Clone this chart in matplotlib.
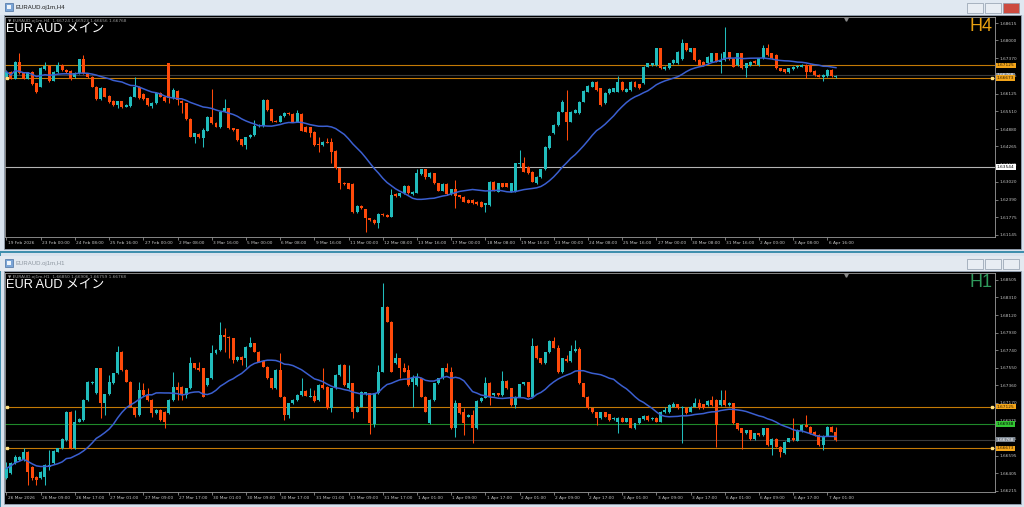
import matplotlib
matplotlib.use('Agg')
import matplotlib.pyplot as plt
import matplotlib.transforms as mtransforms
from matplotlib.patches import Rectangle
import numpy as np
import pandas as pd

plt.rcParams['font.family'] = ['DejaVu Sans', 'Noto Sans CJK JP']

# ---------------- H4 data (EURAUD) ----------------
h4_open = [1.6672, 1.6690, 1.6666, 1.6725, 1.6688, 1.6666, 1.6690, 1.6649, 1.6637, 1.6699,
           1.6710, 1.6658, 1.6688, 1.6714, 1.6696, 1.6692, 1.6670, 1.6684, 1.6734, 1.6684,
           1.6672, 1.6637, 1.6593, 1.6631, 1.6604, 1.6587, 1.6573, 1.6585, 1.6567, 1.6569,
           1.6602, 1.6637, 1.6611, 1.6596, 1.6569, 1.6579, 1.6614, 1.6602, 1.6719, 1.6596,
           1.6623, 1.6588, 1.6579, 1.6525, 1.6461, 1.6470, 1.6455, 1.6482, 1.6529, 1.6508,
           1.6494, 1.6549, 1.6561, 1.6490, 1.6487, 1.6452, 1.6431, 1.6459, 1.6467, 1.6499,
           1.6499, 1.6590, 1.6557, 1.6516, 1.6514, 1.6534, 1.6546, 1.6541, 1.6514, 1.6541,
           1.6496, 1.6494, 1.6478, 1.6435, 1.6431, 1.6443, 1.6443, 1.6410, 1.6349, 1.6298,
           1.6296, 1.6294, 1.6197, 1.6217, 1.6205, 1.6173, 1.6167, 1.6156, 1.6189, 1.6186,
           1.6179, 1.6259, 1.6252, 1.6261, 1.6288, 1.6259, 1.6264, 1.6329, 1.6346, 1.6320,
           1.6332, 1.6297, 1.6271, 1.6294, 1.6259, 1.6275, 1.6254, 1.6250, 1.6238, 1.6238,
           1.6232, 1.6232, 1.6220, 1.6220, 1.6302, 1.6267, 1.6297, 1.6297, 1.6267, 1.6267,
           1.6365, 1.6367, 1.6355, 1.6338, 1.6297, 1.6320, 1.6346, 1.6420, 1.6473, 1.6502,
           1.6549, 1.6549, 1.6514, 1.6545, 1.6543, 1.6584, 1.6620, 1.6637, 1.6655, 1.6631,
           1.6578, 1.6614, 1.6620, 1.6620, 1.6655, 1.6620, 1.6625, 1.6655, 1.6645, 1.6649,
           1.6708, 1.6713, 1.6713, 1.6772, 1.6698, 1.6702, 1.6719, 1.6719, 1.6733, 1.6790,
           1.6760, 1.6772, 1.6731, 1.6725, 1.6719, 1.6725, 1.6755, 1.6725, 1.6731, 1.6758,
           1.6735, 1.6713, 1.6755, 1.6702, 1.6713, 1.6729, 1.6713, 1.6737, 1.6772, 1.6755,
           1.6749, 1.6702, 1.6698, 1.6688, 1.6698, 1.6705, 1.6708, 1.6713, 1.6713, 1.6694,
           1.6678, 1.6672, 1.6675, 1.6696, 1.6670]
h4_high = [1.6696, 1.6692, 1.6729, 1.6755, 1.6690, 1.6690, 1.6692, 1.6651, 1.6705, 1.6725,
           1.6714, 1.6694, 1.6725, 1.6716, 1.6698, 1.6696, 1.6689, 1.6736, 1.6749, 1.6687,
           1.6675, 1.6640, 1.6637, 1.6634, 1.6607, 1.6589, 1.6588, 1.6587, 1.6576, 1.6604,
           1.6670, 1.6640, 1.6616, 1.6598, 1.6583, 1.6619, 1.6619, 1.6604, 1.6722, 1.6631,
           1.6625, 1.6590, 1.6581, 1.6528, 1.6475, 1.6473, 1.6490, 1.6534, 1.6628, 1.6511,
           1.6553, 1.6593, 1.6563, 1.6493, 1.6489, 1.6454, 1.6461, 1.6469, 1.6520, 1.6506,
           1.6593, 1.6593, 1.6560, 1.6519, 1.6536, 1.6549, 1.6548, 1.6543, 1.6555, 1.6543,
           1.6499, 1.6496, 1.6481, 1.6461, 1.6446, 1.6455, 1.6455, 1.6413, 1.6352, 1.6301,
           1.6299, 1.6296, 1.6220, 1.6219, 1.6207, 1.6176, 1.6170, 1.6191, 1.6191, 1.6189,
           1.6276, 1.6261, 1.6264, 1.6291, 1.6291, 1.6270, 1.6346, 1.6348, 1.6348, 1.6338,
           1.6334, 1.6299, 1.6297, 1.6297, 1.6278, 1.6308, 1.6257, 1.6252, 1.6240, 1.6240,
           1.6234, 1.6234, 1.6228, 1.6305, 1.6305, 1.6299, 1.6299, 1.6299, 1.6299, 1.6369,
           1.6414, 1.6390, 1.6357, 1.6340, 1.6322, 1.6348, 1.6428, 1.6467, 1.6506, 1.6553,
           1.6590, 1.6625, 1.6551, 1.6557, 1.6587, 1.6625, 1.6643, 1.6657, 1.6657, 1.6634,
           1.6618, 1.6631, 1.6634, 1.6675, 1.6657, 1.6631, 1.6657, 1.6657, 1.6648, 1.6710,
           1.6722, 1.6722, 1.6775, 1.6775, 1.6710, 1.6722, 1.6733, 1.6763, 1.6804, 1.6792,
           1.6775, 1.6775, 1.6733, 1.6728, 1.6745, 1.6757, 1.6757, 1.6755, 1.6846, 1.6760,
           1.6737, 1.6757, 1.6757, 1.6722, 1.6728, 1.6731, 1.6739, 1.6784, 1.6788, 1.6757,
           1.6751, 1.6704, 1.6700, 1.6704, 1.6710, 1.6713, 1.6716, 1.6716, 1.6716, 1.6696,
           1.6681, 1.6681, 1.6698, 1.6698, 1.6677]
h4_low = [1.6669, 1.6663, 1.6664, 1.6682, 1.6664, 1.6663, 1.6643, 1.6616, 1.6635, 1.6696,
          1.6655, 1.6656, 1.6685, 1.6694, 1.6687, 1.6661, 1.6668, 1.6682, 1.6682, 1.6669,
          1.6635, 1.6590, 1.6590, 1.6600, 1.6579, 1.6569, 1.6561, 1.6563, 1.6564, 1.6567,
          1.6600, 1.6594, 1.6590, 1.6570, 1.6561, 1.6576, 1.6600, 1.6582, 1.6579, 1.6593,
          1.6573, 1.6543, 1.6520, 1.6459, 1.6437, 1.6455, 1.6425, 1.6480, 1.6506, 1.6494,
          1.6492, 1.6547, 1.6487, 1.6482, 1.6447, 1.6428, 1.6416, 1.6456, 1.6465, 1.6496,
          1.6496, 1.6553, 1.6514, 1.6512, 1.6512, 1.6531, 1.6538, 1.6512, 1.6512, 1.6480,
          1.6476, 1.6461, 1.6429, 1.6408, 1.6429, 1.6437, 1.6367, 1.6347, 1.6278, 1.6292,
          1.6276, 1.6191, 1.6191, 1.6206, 1.6126, 1.6165, 1.6153, 1.6138, 1.6182, 1.6177,
          1.6177, 1.6250, 1.6250, 1.6259, 1.6259, 1.6257, 1.6261, 1.6327, 1.6311, 1.6317,
          1.6294, 1.6268, 1.6268, 1.6257, 1.6257, 1.6208, 1.6245, 1.6230, 1.6226, 1.6224,
          1.6221, 1.6212, 1.6197, 1.6218, 1.6271, 1.6265, 1.6282, 1.6282, 1.6265, 1.6265,
          1.6355, 1.6335, 1.6329, 1.6300, 1.6294, 1.6317, 1.6343, 1.6417, 1.6470, 1.6500,
          1.6547, 1.6449, 1.6511, 1.6543, 1.6541, 1.6582, 1.6617, 1.6635, 1.6623, 1.6570,
          1.6576, 1.6611, 1.6617, 1.6617, 1.6623, 1.6617, 1.6623, 1.6635, 1.6629, 1.6647,
          1.6705, 1.6711, 1.6711, 1.6699, 1.6696, 1.6699, 1.6717, 1.6717, 1.6731, 1.6764,
          1.6758, 1.6729, 1.6711, 1.6711, 1.6717, 1.6723, 1.6723, 1.6684, 1.6729, 1.6732,
          1.6705, 1.6711, 1.6699, 1.6672, 1.6711, 1.6717, 1.6711, 1.6735, 1.6746, 1.6735,
          1.6699, 1.6691, 1.6685, 1.6685, 1.6696, 1.6703, 1.6705, 1.6667, 1.6688, 1.6676,
          1.6670, 1.6658, 1.6672, 1.6672, 1.6667]
h4_close = [1.6690, 1.6666, 1.6725, 1.6684, 1.6666, 1.6688, 1.6645, 1.6619, 1.6702, 1.6710,
            1.6658, 1.6690, 1.6714, 1.6696, 1.6690, 1.6666, 1.6687, 1.6734, 1.6684, 1.6672,
            1.6637, 1.6593, 1.6631, 1.6602, 1.6582, 1.6573, 1.6585, 1.6567, 1.6573, 1.6602,
            1.6637, 1.6596, 1.6593, 1.6573, 1.6581, 1.6614, 1.6602, 1.6585, 1.6596, 1.6625,
            1.6590, 1.6579, 1.6522, 1.6461, 1.6473, 1.6459, 1.6484, 1.6529, 1.6508, 1.6496,
            1.6549, 1.6561, 1.6490, 1.6484, 1.6449, 1.6431, 1.6459, 1.6467, 1.6499, 1.6502,
            1.6590, 1.6555, 1.6516, 1.6514, 1.6534, 1.6546, 1.6541, 1.6514, 1.6543, 1.6482,
            1.6478, 1.6475, 1.6431, 1.6430, 1.6443, 1.6440, 1.6408, 1.6349, 1.6296, 1.6294,
            1.6278, 1.6197, 1.6215, 1.6209, 1.6173, 1.6167, 1.6156, 1.6189, 1.6184, 1.6179,
            1.6255, 1.6252, 1.6261, 1.6288, 1.6261, 1.6267, 1.6334, 1.6346, 1.6320, 1.6332,
            1.6297, 1.6271, 1.6294, 1.6259, 1.6275, 1.6252, 1.6247, 1.6232, 1.6228, 1.6226,
            1.6224, 1.6214, 1.6226, 1.6302, 1.6273, 1.6297, 1.6285, 1.6285, 1.6297, 1.6367,
            1.6369, 1.6338, 1.6332, 1.6302, 1.6320, 1.6346, 1.6426, 1.6463, 1.6502, 1.6549,
            1.6584, 1.6514, 1.6549, 1.6555, 1.6584, 1.6623, 1.6641, 1.6655, 1.6625, 1.6573,
            1.6616, 1.6629, 1.6631, 1.6655, 1.6625, 1.6629, 1.6655, 1.6637, 1.6631, 1.6708,
            1.6719, 1.6719, 1.6772, 1.6702, 1.6708, 1.6719, 1.6731, 1.6760, 1.6790, 1.6766,
            1.6772, 1.6731, 1.6713, 1.6713, 1.6743, 1.6755, 1.6725, 1.6731, 1.6758, 1.6735,
            1.6708, 1.6755, 1.6702, 1.6719, 1.6725, 1.6719, 1.6737, 1.6772, 1.6749, 1.6737,
            1.6702, 1.6694, 1.6688, 1.6702, 1.6708, 1.6711, 1.6713, 1.6688, 1.6690, 1.6678,
            1.6672, 1.6678, 1.6696, 1.6675, 1.6675]
h4_dates = ['19 Feb 2026', '23 Feb 00:00', '24 Feb 08:00', '25 Feb 16:00', '27 Feb 00:00',
            '2 Mar 08:00', '3 Mar 16:00', '5 Mar 00:00', '6 Mar 08:00', '9 Mar 16:00',
            '11 Mar 00:00', '12 Mar 08:00', '13 Mar 16:00', '17 Mar 00:00', '18 Mar 08:00',
            '19 Mar 16:00', '23 Mar 00:00', '24 Mar 08:00', '25 Mar 16:00', '27 Mar 00:00',
            '30 Mar 08:00', '31 Mar 16:00', '2 Apr 00:00', '3 Apr 08:00', '6 Apr 16:00']
h4_ticks = [1.68615, 1.68000, 1.67370, 1.66755, 1.66125, 1.65510, 1.64880, 1.64265,
            1.63635, 1.63020, 1.62390, 1.61775, 1.61145]
h4_levels = [1.67125, 1.66673]
h4_marked = [1.66673]
h4_support = 1.63544
h4_header = '\u25bc EURAUD.oj1m,H4  1.66724 1.66923 1.66656 1.66768'

# ---------------- H1 data (EURAUD) ----------------
h1_open = [1.66348, 1.66402, 1.66510, 1.66547, 1.66547, 1.66637, 1.66474, 1.66366, 1.66348, 1.66366,
           1.66474, 1.66510, 1.66637, 1.66673, 1.66764, 1.67071, 1.66673, 1.66963, 1.66981, 1.67198,
           1.67379, 1.67270, 1.67541, 1.67162, 1.67259, 1.67379, 1.67487, 1.67722, 1.67523, 1.67397,
           1.67107, 1.67035, 1.67306, 1.67252, 1.67198, 1.67053, 1.67089, 1.67071, 1.67053, 1.67198,
           1.67342, 1.67342, 1.67252, 1.67324, 1.67596, 1.67541, 1.67541, 1.67360, 1.67433, 1.67704,
           1.67740, 1.67903, 1.67885, 1.67867, 1.67632, 1.67668, 1.67650, 1.67776, 1.67813, 1.67722,
           1.67621, 1.67559, 1.67433, 1.67324, 1.67523, 1.67234, 1.67035, 1.67162, 1.67198, 1.67252,
           1.67295, 1.67234, 1.67245, 1.67198, 1.67360, 1.67342, 1.67107, 1.67324, 1.67469, 1.67578,
           1.67324, 1.67379, 1.67071, 1.67125, 1.67259, 1.67270, 1.66934, 1.67270, 1.67505, 1.68210,
           1.68048, 1.67596, 1.67650, 1.67541, 1.67523, 1.67397, 1.67360, 1.67433, 1.67234, 1.66944,
           1.67198, 1.67379, 1.67433, 1.67541, 1.67505, 1.66890, 1.67162, 1.67064, 1.67017, 1.67035,
           1.66890, 1.67187, 1.67223, 1.67386, 1.67252, 1.67270, 1.67252, 1.67404, 1.67324, 1.67143,
           1.67234, 1.67368, 1.67389, 1.67234, 1.67787, 1.67650, 1.67596, 1.67715, 1.67838, 1.67765,
           1.67498, 1.67643, 1.67621, 1.67729, 1.67751, 1.67379, 1.67234, 1.67107, 1.67064, 1.66999,
           1.67064, 1.67042, 1.66991, 1.66963, 1.67006, 1.66963, 1.66999, 1.66890, 1.66944, 1.66991,
           1.67024, 1.66991, 1.67006, 1.66963, 1.67064, 1.67064, 1.67125, 1.67151, 1.67107, 1.67114,
           1.67071, 1.67125, 1.67162, 1.67151, 1.67143, 1.67198, 1.67198, 1.67143, 1.67198, 1.67143,
           1.67162, 1.66944, 1.66890, 1.66836, 1.66868, 1.66774, 1.66836, 1.66818, 1.66890, 1.66709,
           1.66774, 1.66691, 1.66619, 1.66745, 1.66782, 1.66756, 1.66861, 1.66926, 1.66908, 1.66854,
           1.66818, 1.66709, 1.66811, 1.66908, 1.66854]
h1_high = [1.66528, 1.66528, 1.66601, 1.66590, 1.66680, 1.66644, 1.66481, 1.66373, 1.66427, 1.66499,
           1.66655, 1.66652, 1.66680, 1.66782, 1.67078, 1.67078, 1.67089, 1.66999, 1.67205, 1.67404,
           1.67404, 1.67548, 1.67548, 1.67266, 1.67469, 1.67494, 1.67784, 1.67729, 1.67530, 1.67404,
           1.67114, 1.67397, 1.67379, 1.67324, 1.67205, 1.67096, 1.67096, 1.67078, 1.67205, 1.67505,
           1.67397, 1.67350, 1.67332, 1.67668, 1.67603, 1.67614, 1.67548, 1.67440, 1.67794, 1.67747,
           1.68048, 1.67975, 1.67892, 1.67874, 1.67675, 1.67675, 1.67784, 1.67885, 1.67820, 1.67729,
           1.67628, 1.67567, 1.67440, 1.67530, 1.67704, 1.67241, 1.67169, 1.67205, 1.67259, 1.67433,
           1.67303, 1.67324, 1.67306, 1.67368, 1.67541, 1.67350, 1.67332, 1.67476, 1.67585, 1.67585,
           1.67578, 1.67386, 1.67132, 1.67295, 1.67288, 1.67277, 1.67277, 1.67578, 1.68464, 1.68217,
           1.68055, 1.67704, 1.67657, 1.67596, 1.67578, 1.67469, 1.67487, 1.67440, 1.67241, 1.67205,
           1.67386, 1.67440, 1.67548, 1.67596, 1.67559, 1.67198, 1.67169, 1.67107, 1.67042, 1.67089,
           1.67194, 1.67230, 1.67451, 1.67393, 1.67277, 1.67277, 1.67513, 1.67411, 1.67332, 1.67241,
           1.67375, 1.67397, 1.67397, 1.67867, 1.67794, 1.67657, 1.67722, 1.67845, 1.67885, 1.67794,
           1.67657, 1.67686, 1.67794, 1.67849, 1.67776, 1.67386, 1.67241, 1.67114, 1.67071, 1.67071,
           1.67071, 1.67049, 1.67013, 1.67013, 1.67013, 1.67006, 1.67006, 1.66952, 1.67006, 1.67031,
           1.67031, 1.67013, 1.67013, 1.67078, 1.67125, 1.67151, 1.67180, 1.67158, 1.67132, 1.67122,
           1.67132, 1.67216, 1.67209, 1.67158, 1.67194, 1.67245, 1.67205, 1.67306, 1.67306, 1.67176,
           1.67169, 1.66952, 1.66897, 1.66876, 1.66876, 1.66843, 1.66843, 1.66897, 1.66897, 1.66782,
           1.66782, 1.66698, 1.66753, 1.66789, 1.67006, 1.66879, 1.66934, 1.67035, 1.66915, 1.66861,
           1.66825, 1.66818, 1.66915, 1.66915, 1.66908]
h1_low = [1.66340, 1.66395, 1.66503, 1.66539, 1.66539, 1.66275, 1.66330, 1.66275, 1.66340, 1.66275,
          1.66438, 1.66503, 1.66630, 1.66666, 1.66756, 1.66666, 1.66666, 1.66955, 1.66974, 1.67190,
          1.67371, 1.67263, 1.66999, 1.67035, 1.67252, 1.67371, 1.67480, 1.67516, 1.67389, 1.67118,
          1.67017, 1.67028, 1.67245, 1.67190, 1.67017, 1.67046, 1.66974, 1.66890, 1.67046, 1.67190,
          1.67198, 1.67198, 1.67216, 1.67317, 1.67534, 1.67516, 1.67227, 1.67353, 1.67426, 1.67697,
          1.67733, 1.67722, 1.67650, 1.67596, 1.67625, 1.67578, 1.67559, 1.67769, 1.67715, 1.67607,
          1.67552, 1.67426, 1.67317, 1.67317, 1.67227, 1.66981, 1.66999, 1.67154, 1.67190, 1.67245,
          1.67238, 1.67227, 1.67180, 1.67190, 1.67317, 1.67100, 1.67071, 1.67317, 1.67462, 1.67353,
          1.67317, 1.66999, 1.67064, 1.67118, 1.67252, 1.66825, 1.66908, 1.67263, 1.67498, 1.68041,
          1.67498, 1.67589, 1.67433, 1.67498, 1.67353, 1.67125, 1.67353, 1.67227, 1.67064, 1.66937,
          1.67190, 1.67371, 1.67426, 1.67498, 1.66883, 1.66800, 1.67046, 1.66818, 1.67010, 1.66727,
          1.66883, 1.67180, 1.67216, 1.67143, 1.67245, 1.67245, 1.67245, 1.67317, 1.67136, 1.67107,
          1.67227, 1.67360, 1.67227, 1.67227, 1.67643, 1.67589, 1.67589, 1.67708, 1.67758, 1.67491,
          1.67491, 1.67614, 1.67614, 1.67722, 1.67371, 1.67227, 1.67100, 1.67057, 1.66926, 1.66991,
          1.67010, 1.66974, 1.66984, 1.66836, 1.66955, 1.66955, 1.66890, 1.66883, 1.66937, 1.66984,
          1.66974, 1.66984, 1.66955, 1.66955, 1.67057, 1.67057, 1.67118, 1.67100, 1.66727, 1.67046,
          1.67064, 1.67118, 1.67100, 1.67100, 1.67136, 1.67136, 1.66691, 1.67136, 1.67136, 1.67136,
          1.66937, 1.66876, 1.66666, 1.66829, 1.66767, 1.66767, 1.66811, 1.66811, 1.66702, 1.66601,
          1.66684, 1.66583, 1.66612, 1.66738, 1.66756, 1.66749, 1.66854, 1.66901, 1.66829, 1.66811,
          1.66702, 1.66655, 1.66803, 1.66847, 1.66756]
h1_close = [1.66456, 1.66510, 1.66583, 1.66583, 1.66637, 1.66420, 1.66348, 1.66330, 1.66420, 1.66492,
            1.66492, 1.66644, 1.66673, 1.66774, 1.67071, 1.66673, 1.66963, 1.66991, 1.67198, 1.67397,
            1.67397, 1.67541, 1.67162, 1.67259, 1.67397, 1.67487, 1.67722, 1.67523, 1.67397, 1.67125,
            1.67035, 1.67306, 1.67252, 1.67198, 1.67053, 1.67089, 1.66981, 1.66963, 1.67198, 1.67342,
            1.67306, 1.67252, 1.67324, 1.67596, 1.67541, 1.67523, 1.67234, 1.67433, 1.67704, 1.67740,
            1.67903, 1.67885, 1.67867, 1.67632, 1.67668, 1.67632, 1.67776, 1.67813, 1.67722, 1.67614,
            1.67559, 1.67433, 1.67324, 1.67523, 1.67234, 1.67035, 1.67162, 1.67198, 1.67252, 1.67295,
            1.67245, 1.67245, 1.67187, 1.67360, 1.67324, 1.67107, 1.67324, 1.67469, 1.67578, 1.67360,
            1.67379, 1.67071, 1.67125, 1.67288, 1.67281, 1.66944, 1.67270, 1.67505, 1.68210, 1.68048,
            1.67505, 1.67650, 1.67541, 1.67505, 1.67360, 1.67433, 1.67451, 1.67234, 1.67071, 1.67198,
            1.67379, 1.67433, 1.67541, 1.67505, 1.66890, 1.67162, 1.67053, 1.66944, 1.67035, 1.66890,
            1.67187, 1.67223, 1.67386, 1.67234, 1.67270, 1.67252, 1.67404, 1.67324, 1.67143, 1.67234,
            1.67368, 1.67389, 1.67234, 1.67787, 1.67650, 1.67596, 1.67715, 1.67838, 1.67765, 1.67498,
            1.67650, 1.67621, 1.67729, 1.67751, 1.67379, 1.67234, 1.67107, 1.67064, 1.66999, 1.67064,
            1.67017, 1.66981, 1.67006, 1.67006, 1.66963, 1.66999, 1.66897, 1.66944, 1.66999, 1.67024,
            1.66981, 1.67006, 1.66963, 1.67071, 1.67089, 1.67143, 1.67151, 1.67107, 1.67125, 1.67053,
            1.67125, 1.67162, 1.67107, 1.67107, 1.67187, 1.67143, 1.66926, 1.67198, 1.67143, 1.67169,
            1.66944, 1.66883, 1.66836, 1.66868, 1.66774, 1.66836, 1.66818, 1.66890, 1.66709, 1.66774,
            1.66691, 1.66630, 1.66745, 1.66782, 1.66764, 1.66872, 1.66926, 1.66908, 1.66836, 1.66818,
            1.66709, 1.66811, 1.66908, 1.66854, 1.66764]
h1_dates = ['26 Mar 2026', '26 Mar 09:00', '26 Mar 17:00', '27 Mar 01:00', '27 Mar 09:00',
            '27 Mar 17:00', '30 Mar 01:00', '30 Mar 09:00', '30 Mar 17:00', '31 Mar 01:00',
            '31 Mar 09:00', '31 Mar 17:00', '1 Apr 01:00', '1 Apr 09:00', '1 Apr 17:00',
            '2 Apr 01:00', '2 Apr 09:00', '2 Apr 17:00', '3 Apr 01:00', '3 Apr 09:00',
            '3 Apr 17:00', '6 Apr 01:00', '6 Apr 09:00', '6 Apr 17:00', '7 Apr 01:00']
h1_ticks = [1.68505, 1.68310, 1.68120, 1.67930, 1.67740, 1.67550, 1.67360, 1.67170,
            1.66975, 1.66785, 1.66595, 1.66405, 1.66215]
h1_levels = [1.67125, 1.66673]
h1_marked = [1.67125, 1.66673]
h1_green = 1.66938
h1_header = '\u25bc EURAUD.oj1m,H1  1.66850 1.66906 1.66759 1.66768'

bid = 1.66768
ma_period = 20

BULL = '#21bcbc'
BEAR = '#ff4a0a'
MA_COL = '#3b5fd0'
LEVEL_COL = '#c47a06'
LABEL_COL = '#f3a51a'
SMALL = 3.1

W, H = 1024, 507
fig = plt.figure(figsize=(W / 100, H / 100), dpi=100, facecolor='#d8e2ed')


def px_rect(x, y, w, h, **kw):
    fig.add_artist(Rectangle((x / W, 1 - (y + h) / H), w / W, h / H,
                             transform=fig.transFigure, zorder=-5, **kw))


def px_text(x, y, s, **kw):
    fig.text(x / W, 1 - y / H, s, **kw)


def px_axes(x0, y0, x1, y1):
    return fig.add_axes([x0 / W, 1 - y1 / H, (x1 - x0) / W, (y1 - y0) / H])


def window(top, height, title, active):
    px_rect(0, top, 1024, 15, fc='#e0e8f1' if active else '#e3e9f0', ec='none')
    px_rect(5, top + 3, 8, 8, fc='#7aa4d6', ec='#4a70a0', lw=0.5)
    px_rect(7, top + 5, 4, 4, fc='#eef4fb', ec='none')
    px_text(16, top + 7.5, title, fontsize=4.3, va='center', family='Liberation Sans',
            color='#1c1c1c' if active else '#8d96a0')
    for i, bx in enumerate([967, 985, 1003]):
        fc = '#cd4b40' if (active and i == 2) else '#e8edf3'
        px_rect(bx, top + 3, 16, 10, fc=fc, ec='#8e9bab', lw=0.5)
    px_rect(3.5, top + 15, 1017, height, fc='black', ec='#95a3b3', lw=0.6)


window(0, 234, 'EURAUD.oj1m,H4', True)
px_rect(0, 251.5, 1024, 1.6, fc='#3f8fad', ec='none')
px_rect(0, 251.5, 1.4, 255, fc='#3f8fad', ec='none')
window(256, 233, 'EURAUD.oj1m,H1', False)


def draw_chart(ax, o, h, l, c, ylim, ticks, dates, levels, marked, tf, tf_col, header, extra):
    o, h, l, c = map(np.asarray, (o, h, l, c))
    x = np.arange(len(c))
    col = np.where(c >= o, BULL, BEAR)
    ax.set_facecolor('black')
    ax.set_ylim(*ylim)
    ax.set_xlim(-0.35, 231.2)
    ax.vlines(x, l, h, colors=col, lw=0.75, zorder=3)
    minh = (ylim[1] - ylim[0]) / 230
    ax.bar(x, np.maximum(np.abs(c - o), minh), bottom=np.minimum(o, c), width=0.7,
           color=col, lw=0, zorder=3)
    ma = pd.Series(c).rolling(ma_period, min_periods=1).mean()
    ax.plot(x, ma, color=MA_COL, lw=1.1, zorder=4)

    tr = mtransforms.blended_transform_factory(ax.transAxes, ax.transData)
    box = dict(boxstyle='square,pad=0.18', ec='none')
    # bid line and its label
    ax.axhline(bid, color='#3a3a3a', lw=0.8, zorder=2)
    ax.text(1.002, bid, '%.5f' % bid, transform=tr, fontsize=SMALL, va='center', ha='left',
            color='white', bbox=dict(box, fc='#7d8792'), zorder=6)
    for kind, val in extra:
        if kind == 'support':
            ax.axhline(val, color='#b4b4b4', lw=0.8, zorder=2)
            ax.text(1.002, val, '%.5f' % val, transform=tr, fontsize=SMALL, va='center',
                    ha='left', color='black', bbox=dict(box, fc='white'), zorder=6)
        else:
            ax.axhline(val, color='#1f8a2a', lw=0.8, zorder=2)
            ax.text(1.002, val, '%.5f' % val, transform=tr, fontsize=SMALL, va='center',
                    ha='left', color='black', bbox=dict(box, fc='#34c834'), zorder=6)
    for val in levels:
        ax.axhline(val, color=LEVEL_COL, lw=0.8, zorder=2)
        ax.text(1.002, val, '%.5f' % val, transform=tr, fontsize=SMALL, va='center',
                ha='left', color='#2a1a00', bbox=dict(box, fc=LABEL_COL), zorder=7)
    for val in marked:
        ax.plot([0.002, 0.997], [val, val], 's', ms=1.6, color='#ffe080', mec='#ffe080',
                transform=tr, zorder=5, clip_on=False)

    ax.yaxis.tick_right()
    ax.set_yticks(ticks)
    ax.set_yticklabels(['%.5f' % t for t in ticks])
    ax.set_xticks(np.arange(len(dates)) * 8)
    ax.set_xticklabels(dates)
    ax.tick_params(axis='both', colors='#a8a8a8', labelcolor='#c4c4c4', labelsize=SMALL,
                   length=2, width=0.5, pad=1)
    shift = mtransforms.ScaledTranslation(0.012, 0, fig.dpi_scale_trans)
    for lab in ax.get_xticklabels():
        lab.set_horizontalalignment('left')
        lab.set_transform(lab.get_transform() + shift)
    for sp in ax.spines.values():
        sp.set_color('#9c9c9c')
        sp.set_linewidth(0.6)

    ax.plot([0.8495], [0.988], 'v', ms=2.5, color='#8a8a8a', transform=ax.transAxes,
            clip_on=False, zorder=6)
    ax.text(0.003, 0.99, header, transform=ax.transAxes, fontsize=SMALL, color='#9a9a9a',
            va='top', ha='left')
    ax.text(0.001, 0.972, 'EUR AUD メイン', transform=ax.transAxes, fontsize=9.2,
            color='white', va='top', ha='left', family=['Liberation Sans', 'Noto Sans CJK JP'])
    ax.text(0.9975, 0.995, tf, transform=ax.transAxes, fontsize=13, color=tf_col,
            va='top', ha='right', family=['Liberation Sans', 'DejaVu Sans'])


ax1 = px_axes(5, 16.7, 995, 236.7)
draw_chart(ax1, h4_open, h4_high, h4_low, h4_close, (1.61085, 1.68838), h4_ticks, h4_dates,
           h4_levels, h4_marked, 'H4', '#e8a010', h4_header, [('support', h4_support)])

ax2 = px_axes(5, 272.7, 995, 491.7)
draw_chart(ax2, h1_open, h1_high, h1_low, h1_close, (1.66203, 1.68579), h1_ticks, h1_dates,
           h1_levels, h1_marked, 'H1', '#2f9a5c', h1_header, [('green', h1_green)])

fig.savefig('out.png', dpi=100, facecolor=fig.get_facecolor())
